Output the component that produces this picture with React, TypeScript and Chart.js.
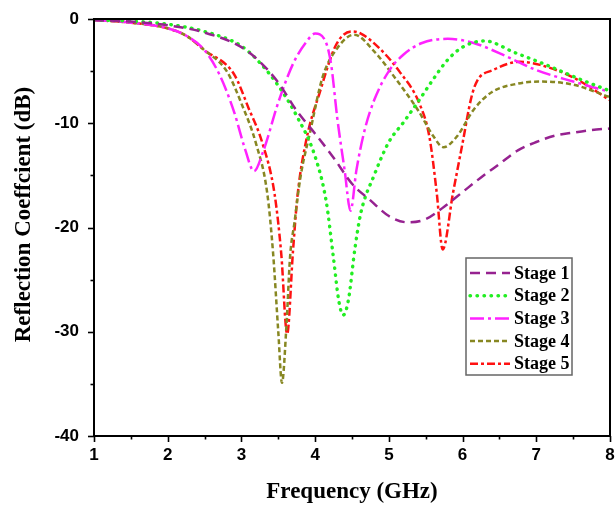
import React, { useEffect, useRef } from 'react';
import { Chart, registerables } from 'chart.js';

Chart.register(...registerables);

// ---- Data ----
const STAGE_LABELS = ['Stage 1', 'Stage 2', 'Stage 3', 'Stage 4', 'Stage 5'];

const STAGE1_F = [1, 1.5, 2, 2.5, 3, 3.25, 3.5, 3.75, 4, 4.25, 4.5, 4.75, 5, 5.25, 5.5, 5.75, 6, 6.25, 6.5, 6.75, 7, 7.25, 7.5, 7.75, 8];
const STAGE1_DB = [-0.1, -0.25, -0.6, -1.3, -2.7, -4.1, -6.1, -8.8, -11.0, -13.3, -15.8, -17.4, -18.9, -19.5, -19.2, -18.0, -16.6, -15.2, -13.9, -12.6, -11.8, -11.2, -10.9, -10.65, -10.5];

const STAGE2_F = [1, 1.5, 2, 2.5, 3, 3.25, 3.5, 3.75, 4, 4.15, 4.25, 4.32, 4.38, 4.45, 4.54, 4.62, 4.8, 5, 5.2, 5.4, 5.6, 5.8, 6, 6.3, 6.7, 7.1, 7.6, 8];
const STAGE2_DB = [-0.1, -0.2, -0.5, -1.2, -2.6, -4.2, -6.4, -9.3, -13.2, -17.5, -23.0, -27.0, -28.4, -27.0, -22.0, -18.6, -15.0, -11.8, -9.9, -7.9, -5.8, -3.9, -2.7, -2.1, -3.2, -4.3, -5.8, -6.9];

const STAGE3_F = [1, 1.5, 2, 2.25, 2.5, 2.7, 2.9, 3.05, 3.17, 3.3, 3.5, 3.7, 3.88, 4.0, 4.15, 4.22, 4.3, 4.4, 4.48, 4.56, 4.67, 4.8, 5.0, 5.2, 5.45, 5.8, 6.15, 6.6, 7.0, 7.5, 8];
const STAGE3_DB = [-0.1, -0.35, -0.9, -1.6, -3.0, -5.3, -8.9, -12.5, -14.6, -12.6, -8.0, -4.3, -2.2, -1.4, -2.3, -4.5, -9.5, -14.5, -18.4, -14.5, -10.7, -7.8, -5.0, -3.4, -2.3, -1.9, -2.3, -3.6, -4.9, -6.0, -7.0];

const STAGE4_F = [1, 1.5, 2, 2.25, 2.5, 2.8, 3.0, 3.2, 3.35, 3.43, 3.5, 3.55, 3.61, 3.66, 3.72, 3.8, 3.93, 4.1, 4.3, 4.53, 4.8, 5.1, 5.4, 5.6, 5.74, 5.92, 6.15, 6.4, 6.75, 7.05, 7.5, 8];
const STAGE4_DB = [-0.1, -0.35, -0.9, -1.6, -3.0, -5.0, -8.1, -12.0, -16.7, -22.5, -30.0, -34.9, -29.5, -22.8, -19.5, -15.2, -10.9, -5.6, -2.8, -1.5, -3.1, -5.8, -8.8, -11.2, -12.3, -11.3, -8.7, -7.0, -6.2, -6.0, -6.3, -7.5];

const STAGE5_F = [1, 1.5, 2, 2.25, 2.5, 2.9, 3.1, 3.28, 3.45, 3.54, 3.62, 3.7, 3.76, 3.88, 4.06, 4.29, 4.5, 4.62, 4.87, 5.14, 5.42, 5.55, 5.65, 5.73, 5.87, 6.0, 6.12, 6.2, 6.41, 6.78, 7.05, 7.5, 8];
const STAGE5_DB = [-0.1, -0.35, -0.9, -1.6, -3.0, -5.3, -8.6, -11.8, -16.8, -22.5, -30.2, -22.2, -17.0, -11.6, -7.1, -2.4, -1.2, -1.4, -2.8, -5.0, -8.2, -11.3, -16.7, -22.1, -16.7, -11.9, -7.5, -5.9, -4.9, -4.1, -4.4, -5.6, -7.8];

const X_MIN = 1;
const X_MAX = 8;
const X_STEP = 1;
const X_MINOR_STEP = 0.5;
const Y_MIN = -40;
const Y_MAX = 0;
const Y_STEP = 10;
const Y_MINOR_STEP = 5;

const X_TITLE = 'Frequency (GHz)';
const Y_TITLE = 'Reflection Coeffcient (dB)';

// ---- Styles ----
const SERIF = '"Liberation Serif", "Times New Roman", Times, serif';
const SANS = '"Liberation Sans", Arial, Helvetica, sans-serif';

const STYLES = [
  { color: '#962290', dash: [10, 6], cap: 'butt', width: 2.5 },
  { color: '#22EE22', dash: [0.5, 6.5], cap: 'round', width: 3.4 },
  { color: '#FF22FF', dash: [14, 4, 3, 4], cap: 'butt', width: 2.5 },
  { color: '#878722', dash: [5, 3], cap: 'butt', width: 2.5 },
  { color: '#FF1111', dash: [8, 3, 3, 3], cap: 'butt', width: 2.5 },
];

const SERIES_F = [STAGE1_F, STAGE2_F, STAGE3_F, STAGE4_F, STAGE5_F];
const SERIES_DB = [STAGE1_DB, STAGE2_DB, STAGE3_DB, STAGE4_DB, STAGE5_DB];

function toPoints(f: number[], d: number[]) {
  return f.map((x, i) => ({ x, y: d[i] }));
}

function zeroPadding(s: any) {
  s.paddingLeft = 0;
  s.paddingRight = 0;
  s.paddingTop = 0;
  s.paddingBottom = 0;
}

const frameTicksPlugin = {
  id: 'frameTicks',
  afterDatasetsDraw(chart: any) {
    const { ctx, chartArea: a, scales } = chart;
    const xs = scales.x;
    const ys = scales.y;
    ctx.save();
    ctx.strokeStyle = '#000';
    ctx.lineWidth = 2;
    ctx.setLineDash([]);
    ctx.strokeRect(a.left, a.top, a.right - a.left, a.bottom - a.top);
    ctx.lineWidth = 1.6;
    const nx = Math.round((X_MAX - X_MIN) / X_MINOR_STEP);
    for (let i = 0; i <= nx; i++) {
      const v = X_MIN + i * X_MINOR_STEP;
      const px = Math.round(xs.getPixelForValue(v)) + 0.5;
      const major = Math.abs((v - X_MIN) / X_STEP - Math.round((v - X_MIN) / X_STEP)) < 1e-6;
      const len = major ? 6 : 3.5;
      ctx.beginPath();
      ctx.moveTo(px, a.bottom);
      ctx.lineTo(px, a.bottom + len);
      ctx.stroke();
    }
    const ny = Math.round((Y_MAX - Y_MIN) / Y_MINOR_STEP);
    for (let i = 0; i <= ny; i++) {
      const v = Y_MIN + i * Y_MINOR_STEP;
      const py = Math.round(ys.getPixelForValue(v)) + 0.5;
      const major = Math.abs((v - Y_MIN) / Y_STEP - Math.round((v - Y_MIN) / Y_STEP)) < 1e-6;
      const len = major ? 6 : 3.5;
      ctx.beginPath();
      ctx.moveTo(a.left, py);
      ctx.lineTo(a.left - len, py);
      ctx.stroke();
    }
    ctx.restore();
  },
  afterDraw(chart: any) {
    const { ctx, chartArea: a } = chart;
    // Y axis title
    ctx.save();
    ctx.fillStyle = '#000';
    ctx.font = `bold 23px ${SERIF}`;
    ctx.textAlign = 'center';
    ctx.textBaseline = 'middle';
    ctx.translate(24, (a.top + a.bottom) / 2 - 13);
    ctx.rotate(-Math.PI / 2);
    ctx.fillText(Y_TITLE, 0, 0);
    ctx.restore();

    // Legend box
    const bx = 466, by = 258, bw = 106, bh = 117;
    ctx.save();
    ctx.fillStyle = '#fff';
    ctx.fillRect(bx, by, bw, bh);
    ctx.strokeStyle = '#666';
    ctx.lineWidth = 1.5;
    ctx.setLineDash([]);
    ctx.strokeRect(bx, by, bw, bh);
    const ds = chart.data.datasets;
    ds.forEach((d: any, i: number) => {
      const cy = by + 15 + i * 22.7;
      ctx.save();
      ctx.strokeStyle = d.borderColor;
      ctx.lineWidth = d.borderWidth;
      ctx.lineCap = d.borderCapStyle;
      ctx.setLineDash(d.borderDash);
      ctx.beginPath();
      ctx.moveTo(bx + 4, cy);
      ctx.lineTo(bx + 44, cy);
      ctx.stroke();
      ctx.restore();
      ctx.fillStyle = '#000';
      ctx.font = `bold 18px ${SERIF}`;
      ctx.textAlign = 'left';
      ctx.textBaseline = 'middle';
      ctx.fillText(d.label, bx + 48, cy + 1);
    });
    ctx.restore();
  },
};

export default function App() {
  const canvasRef = useRef<HTMLCanvasElement | null>(null);

  useEffect(() => {
    if (!canvasRef.current) return;
    const datasets = STAGE_LABELS.map((label, i) => ({
      label,
      data: toPoints(SERIES_F[i], SERIES_DB[i]),
      borderColor: STYLES[i].color,
      backgroundColor: STYLES[i].color,
      borderWidth: STYLES[i].width,
      borderDash: STYLES[i].dash,
      borderCapStyle: STYLES[i].cap,
      borderJoinStyle: 'round',
      pointRadius: 0,
      fill: false,
      cubicInterpolationMode: 'monotone',
    }));

    const chart = new Chart(canvasRef.current, {
      type: 'line',
      data: { datasets } as any,
      options: {
        animation: false,
        responsive: false,
        maintainAspectRatio: false,
        devicePixelRatio: 1,
        layout: { padding: { left: 0, top: 19, right: 5, bottom: 0 } },
        plugins: {
          legend: { display: false },
          tooltip: { enabled: false },
        },
        scales: {
          x: {
            type: 'linear',
            min: X_MIN,
            max: X_MAX,
            grid: { display: false, drawTicks: false },
            border: { display: false },
            ticks: {
              stepSize: X_STEP,
              padding: 9,
              color: '#000',
              font: { family: SANS, size: 17, weight: 'bold' },
              maxRotation: 0,
            },
            title: {
              display: true,
              text: X_TITLE,
              color: '#000',
              font: { family: SERIF, size: 23, weight: 'bold' },
              padding: { top: 0, bottom: 2 },
            },
            afterFit: (s: any) => {
              s.height = 72;
              zeroPadding(s);
            },
          },
          y: {
            type: 'linear',
            min: Y_MIN,
            max: Y_MAX,
            grid: { display: false, drawTicks: false },
            border: { display: false },
            ticks: {
              stepSize: Y_STEP,
              padding: 15,
              color: '#000',
              font: { family: SANS, size: 17, weight: 'bold' },
            },
            afterFit: (s: any) => {
              s.width = 94;
              zeroPadding(s);
            },
          },
        },
      } as any,
      plugins: [frameTicksPlugin],
    });
    return () => chart.destroy();
  }, []);

  return (
    <div style={{ position: 'absolute', left: 0, top: 0, width: 615, height: 508, background: '#fff' }}>
      <canvas ref={canvasRef} width={615} height={508} style={{ display: 'block', width: 615, height: 508 }} />
    </div>
  );
}
